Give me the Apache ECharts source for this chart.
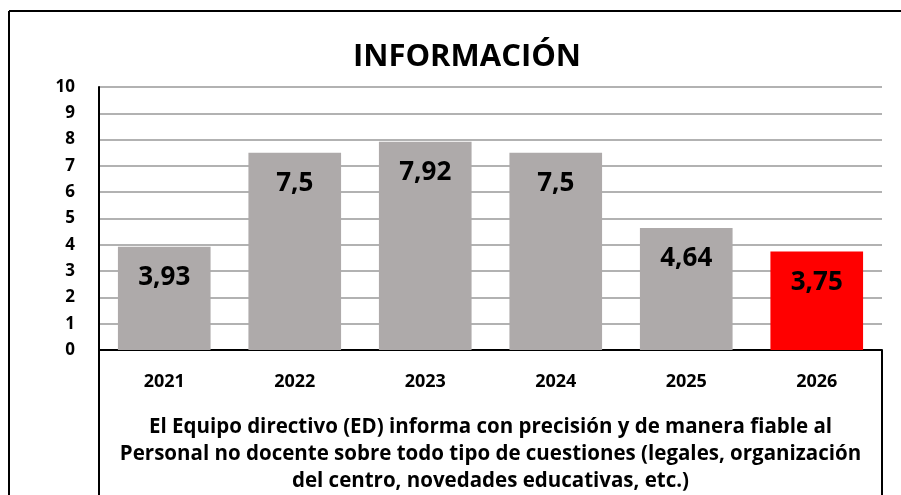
<!DOCTYPE html>
<html>
<head>
<meta charset="utf-8">
<script src="https://cdn.jsdelivr.net/npm/echarts@6/dist/echarts.min.js"></script>
<style>
  html, body { margin: 0; padding: 0; background: #fff; }
  #chart { width: 901px; height: 495px; }
</style>
</head>
<body>
<div id="chart"></div>
<script>
var years = ['2021', '2022', '2023', '2024', '2025', '2026'];
var scores = [3.93, 7.5, 7.92, 7.5, 4.64, 3.75];
var barColors = ['#aeaaaa', '#aeaaaa', '#aeaaaa', '#aeaaaa', '#aeaaaa', '#ff0000'];
var axisTitle = 'El Equipo directivo (ED) informa con precisión y de manera fiable al\n' +
    'Personal no docente sobre todo tipo de cuestiones (legales, organización\n' +
    'del centro, novedades educativas, etc.)';
var font = 'Open Sans';

var chart = echarts.init(document.getElementById('chart'));

var option = {
    animation: false,
    textStyle: { fontFamily: font, fontWeight: 'bold', color: '#000' },
    title: {
        text: 'INFORMACIÓN',
        left: 462,
        top: 37,
        textAlign: 'center',
        textStyle: { fontFamily: font, fontWeight: 'bold', fontSize: 31, color: '#000' }
    },
    // the axis name runs off the bottom edge like the original, so keep the grid fixed
    grid: { left: 99, right: 19, top: 87, bottom: 145, containLabel: false, outerBoundsMode: 'none' },
    xAxis: {
        type: 'category',
        data: years,
        axisLine: { lineStyle: { color: '#000', width: 2 } },
        axisTick: { show: false },
        axisLabel: { margin: 23, fontSize: 18, fontWeight: 'bold', color: '#000', fontFamily: font },
        name: axisTitle,
        nameLocation: 'middle',
        nameGap: 64,
        nameTextStyle: { fontSize: 20.5, fontWeight: 'bold', color: '#000', lineHeight: 27, fontFamily: font, align: 'center' }
    },
    yAxis: {
        type: 'value',
        min: 0,
        max: 10,
        interval: 1,
        axisLine: { show: true, lineStyle: { color: '#000', width: 2 } },
        axisTick: { show: false },
        axisLabel: { margin: 24, fontSize: 17, fontWeight: 'bold', color: '#000', fontFamily: font },
        splitLine: { lineStyle: { color: '#b2b2b2', width: 2 } }
    },
    series: [{
        type: 'bar',
        data: scores.map(function (v, i) {
            return { value: v, itemStyle: { color: barColors[i] } };
        }),
        barWidth: '71%',
        label: {
            show: true,
            position: 'insideTop',
            distance: 18,
            fontSize: 26,
            fontWeight: 'bold',
            fontFamily: font,
            color: '#000',
            formatter: function (p) { return String(p.value).replace('.', ','); }
        }
    }],
    graphic: [
        // outer chart border
        { type: 'line', shape: { x1: 9, y1: 11, x2: 901, y2: 11 }, style: { stroke: '#000', lineWidth: 2 } },
        { type: 'line', shape: { x1: 9, y1: 11, x2: 9, y2: 495 }, style: { stroke: '#000', lineWidth: 2 } },
        // category box under the axis
        { type: 'line', shape: { x1: 99, y1: 350, x2: 99, y2: 495 }, style: { stroke: '#000', lineWidth: 2 } },
        { type: 'line', shape: { x1: 882, y1: 350, x2: 882, y2: 495 }, style: { stroke: '#000', lineWidth: 2 } }
    ]
};

chart.setOption(option);
</script>
</body>
</html>
